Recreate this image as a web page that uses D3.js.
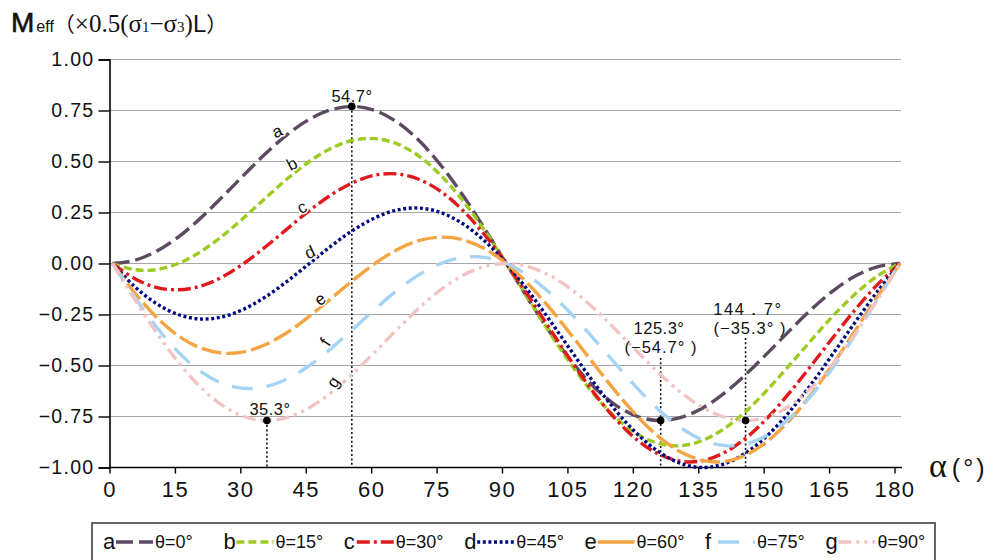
<!DOCTYPE html>
<html><head><meta charset="utf-8">
<script src="https://cdn.jsdelivr.net/npm/d3@7"></script>
<style>body{margin:0;background:#fff}svg{display:block}</style>
</head><body>
<svg id="c" width="995" height="560"></svg>
<script>
// ---- data ----
const alphas = [0,5,10,15,20,25,30,35,40,45,50,55,60,65,70,75,80,85,90,95,100,105,110,115,120,125,130,135,140,145,150,155,160,165,170,175,180];
const seriesKeys = ["a","b","c","d","e","f","g"];
const seriesNames = ["θ=0°","θ=15°","θ=30°","θ=45°","θ=60°","θ=75°","θ=90°"];
const vA = [0,0.015,0.059,0.129,0.220,0.324,0.433,0.539,0.633,0.707,0.754,0.770,0.750,0.694,0.604,0.483,0.337,0.173,0,-0.173,-0.337,-0.483,-0.604,-0.694,-0.750,-0.770,-0.754,-0.707,-0.633,-0.539,-0.433,-0.324,-0.220,-0.129,-0.059,-0.015,0];
const vB = [0,-0.030,-0.030,0.000,0.056,0.133,0.224,0.321,0.416,0.500,0.565,0.604,0.612,0.587,0.527,0.433,0.310,0.163,0,-0.171,-0.341,-0.500,-0.640,-0.754,-0.837,-0.883,-0.893,-0.866,-0.807,-0.720,-0.612,-0.492,-0.369,-0.250,-0.145,-0.059,0];
const vC = [0,-0.073,-0.117,-0.129,-0.112,-0.067,0,0.082,0.171,0.259,0.337,0.397,0.433,0.439,0.413,0.354,0.262,0.142,0,-0.157,-0.321,-0.483,-0.633,-0.763,-0.866,-0.936,-0.970,-0.966,-0.925,-0.852,-0.750,-0.627,-0.492,-0.354,-0.220,-0.100,0];
const vD = [0,-0.112,-0.196,-0.250,-0.272,-0.262,-0.224,-0.163,-0.086,0,0.086,0.163,0.224,0.262,0.272,0.250,0.196,0.112,0,-0.133,-0.280,-0.433,-0.583,-0.720,-0.837,-0.925,-0.981,-1.000,-0.981,-0.925,-0.837,-0.720,-0.583,-0.433,-0.280,-0.133,0];
const vE = [0,-0.142,-0.262,-0.354,-0.413,-0.439,-0.433,-0.397,-0.337,-0.259,-0.171,-0.082,0,0.067,0.112,0.129,0.117,0.073,0,-0.100,-0.220,-0.354,-0.492,-0.627,-0.750,-0.852,-0.925,-0.966,-0.970,-0.936,-0.866,-0.763,-0.633,-0.483,-0.321,-0.157,0];
const vF = [0,-0.163,-0.310,-0.433,-0.527,-0.587,-0.612,-0.604,-0.565,-0.500,-0.416,-0.321,-0.224,-0.133,-0.056,0,0.030,0.030,0,-0.059,-0.145,-0.250,-0.369,-0.492,-0.612,-0.720,-0.807,-0.866,-0.893,-0.883,-0.837,-0.754,-0.640,-0.500,-0.341,-0.171,0];
const vG = [0,-0.173,-0.337,-0.483,-0.604,-0.694,-0.750,-0.770,-0.754,-0.707,-0.633,-0.539,-0.433,-0.324,-0.220,-0.129,-0.059,-0.015,0,-0.015,-0.059,-0.129,-0.220,-0.324,-0.433,-0.539,-0.633,-0.707,-0.754,-0.770,-0.750,-0.694,-0.604,-0.483,-0.337,-0.173,0];
const xTicks = [0,15,30,45,60,75,90,105,120,135,150,165,180];
const yTicks = [-1,-0.75,-0.5,-0.25,0,0.25,0.5,0.75,1];
// curve labels (alpha, value, rotation)
const labelAlpha = [37.6,41.0,43.3,45.1,47.4,48.6,50.4];
const labelValue = [0.649,0.489,0.277,0.056,-0.174,-0.385,-0.581];
const labelRot = [-25,-28,-25,-25,-35,-58,-55];
// annotations
const annAlpha = [54.7,35.3,125.3,144.7];
const annValue = [0.77,-0.77,-0.77,-0.77];
const annTop = [0.77,-0.77,-0.463,-0.365];
const annText1 = ["54.7°","35.3°","125.3°","144．7°"];
const annText2 = ["","","(−54.7° )","(−35.3° )"];

// ---- styles ----
const colors = ["#5c4b60","#9dcb22","#e01a1c","#000a80","#f5a443","#a5d3f4","#f2c3c3"];
const dashes = ["17,6","8,4","13,4,3,4","3,2.6","20,5","21,14","13,5,3,5,3,5"];
const values = [vA,vB,vC,vD,vE,vF,vG];

const svg = d3.select("#c");
const x = d3.scaleLinear().domain([0,180]).range([112.5,900]);
const xt = d3.scaleLinear().domain([0,180]).range([109.5,894.5]);
const y = d3.scaleLinear().domain([-1,1]).range([467.5,59.5]);
const sans = "'Liberation Sans', Arial, sans-serif";

// grid
svg.append("g").selectAll("line").data(yTicks.filter(d=>d>-1)).join("line")
  .attr("x1",109.5).attr("x2",901).attr("y1",d=>y(d)).attr("y2",d=>y(d))
  .attr("stroke","#a6a6a6").attr("stroke-width",1.2);

// axes
const yAxis = d3.axisLeft(y).tickValues(yTicks).tickSize(11).tickFormat(d3.format(".2f"));
const gy = svg.append("g").attr("transform","translate(109.5,0)").call(yAxis);
gy.select(".domain").attr("stroke","#000").attr("stroke-width",1.6);
gy.selectAll(".tick line").attr("stroke","#000").attr("stroke-width",1.4);
gy.selectAll(".tick text").attr("font-family",sans).attr("font-size",19.5).attr("letter-spacing",1.3)
  .attr("fill","#111").attr("x",-15);

const xAxis = d3.axisBottom(xt).tickValues(xTicks).tickSize(6).tickSizeOuter(0);
const gx = svg.append("g").attr("transform","translate(0,467.5)").call(xAxis);
gx.select(".domain").attr("d","M109.5,0H902").attr("stroke","#000").attr("stroke-width",1.6);
gx.selectAll(".tick line").attr("stroke","#000").attr("stroke-width",1.4);
gx.selectAll(".tick text").attr("font-family",sans).attr("font-size",22).attr("letter-spacing",1.5)
  .attr("fill","#111").attr("y",14).attr("dy","0.71em");

// annotation dotted lines
const ann = annAlpha.map((a,i)=>({a,v:annValue[i],top:annTop[i],t1:annText1[i],t2:annText2[i]}));
svg.append("g").selectAll("line").data(ann).join("line")
  .attr("x1",d=>x(d.a)).attr("x2",d=>x(d.a)).attr("y1",d=>y(d.top)).attr("y2",467)
  .attr("stroke","#111").attr("stroke-width",1.6).attr("stroke-dasharray","2,2.4");

// curves
const line = d3.line().x(d=>x(d[0])).y(d=>y(d[1])).curve(d3.curveCatmullRom.alpha(0.5));
seriesKeys.forEach((k,i)=>{
  svg.append("path").datum(alphas.map((a,j)=>[a,values[i][j]]))
    .attr("d",line).attr("fill","none").attr("stroke",colors[i])
    .attr("stroke-width",3.4).attr("stroke-dasharray",dashes[i]);
});

// curve labels
seriesKeys.forEach((k,i)=>{
  svg.append("text").attr("transform",`translate(${x(labelAlpha[i])},${y(labelValue[i])}) rotate(${labelRot[i]})`)
    .attr("text-anchor","middle").attr("dy","0.35em")
    .attr("font-family",sans).attr("font-size",17).attr("fill","#111")
    .attr("stroke","#fff").attr("stroke-width",3).attr("paint-order","stroke").text(k);
});

// annotation dots and texts
svg.append("g").selectAll("circle").data(ann).join("circle")
  .attr("cx",d=>x(d.a)).attr("cy",d=>y(d.v)).attr("r",3.8).attr("fill","#000");
const annPos = [[352,102],[270,415],[659,334],[748,315]];
ann.forEach((d,i)=>{
  svg.append("text").attr("x",annPos[i][0]).attr("y",annPos[i][1]).attr("text-anchor","middle")
    .attr("font-family",sans).attr("font-size",16.5).attr("fill","#111")
    .attr("letter-spacing", i===3?1.5:0.5).text(d.t1);
  if(d.t2) svg.append("text").attr("x",annPos[i][0]+2).attr("y",annPos[i][1]+19).attr("text-anchor","middle")
    .attr("font-family",sans).attr("font-size",16.5).attr("fill","#111").attr("letter-spacing",1).text(d.t2);
});

// title
const title = svg.append("text").attr("x",11).attr("y",32).attr("fill","#111");
title.append("tspan").attr("font-family",sans).attr("font-size",28).attr("stroke","#111").attr("stroke-width",0.6).text("M");
title.append("tspan").attr("font-family",sans).attr("font-size",16).attr("dx",2).text("eff");
title.append("tspan").attr("font-family","'Noto Sans CJK JP'").attr("font-size",21).text("（");
title.append("tspan").attr("font-family","'Liberation Serif', serif").attr("font-size",25).text("×0.5(σ");
title.append("tspan").attr("font-family","'Liberation Serif', serif").attr("font-size",15).text("1");
title.append("tspan").attr("font-family","'Liberation Serif', serif").attr("font-size",25).text("−σ");
title.append("tspan").attr("font-family","'Liberation Serif', serif").attr("font-size",15).text("3");
title.append("tspan").attr("font-family","'Liberation Serif', serif").attr("font-size",25).text(")");
title.append("tspan").attr("font-family",sans).attr("font-size",24).text("L");
title.append("tspan").attr("font-family","'Noto Sans CJK JP'").attr("font-size",21).text("）");

// x axis title
const xt2 = svg.append("text").attr("x",929).attr("y",477).attr("fill","#111");
xt2.append("tspan").attr("font-family","'Liberation Serif', serif").attr("font-size",34).text("α");
xt2.append("tspan").attr("font-family",sans).attr("font-size",25).attr("dx",5).attr("letter-spacing",3).text("(°)");

// legend
svg.append("rect").attr("x",92).attr("y",523).attr("width",843).attr("height",50)
  .attr("fill","#fff").attr("stroke","#555").attr("stroke-width",1.8);
seriesKeys.forEach((k,i)=>{
  const lx = 103 + i*120.4;
  svg.append("text").attr("x",lx).attr("y",549).attr("font-family",sans).attr("font-size",22).attr("fill","#111").text(k);
  svg.append("line").attr("x1",lx+13).attr("x2",lx+50).attr("y1",542).attr("y2",542)
    .attr("stroke",colors[i]).attr("stroke-width",3.4).attr("stroke-dasharray",i===4?null:dashes[i]);
  svg.append("text").attr("x",lx+52).attr("y",548).attr("font-family",sans).attr("font-size",18).attr("fill","#111").text(seriesNames[i]);
});
</script>
</body></html>
